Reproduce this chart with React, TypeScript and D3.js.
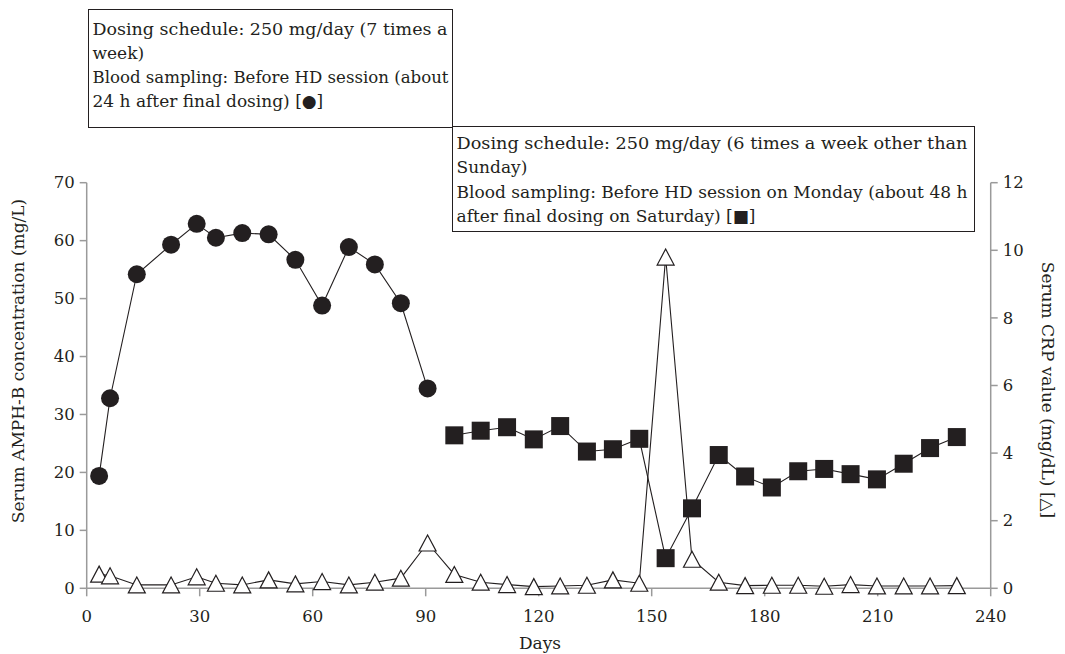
import React from "react";
import * as d3 from "d3";

// ---- data ----
const daysDaily = [3.3, 6.2, 13.3, 22.4, 29.2, 34.3, 41.3, 48.3, 55.4, 62.5, 69.6, 76.5, 83.4, 90.5];
const amphDaily = [19.4, 32.8, 54.2, 59.3, 62.9, 60.5, 61.3, 61.1, 56.7, 48.8, 58.9, 55.9, 49.2, 34.5];
const daysSix = [97.6, 104.6, 111.6, 118.7, 125.7, 132.8, 139.7, 146.7, 153.7, 160.7, 167.8, 174.8, 181.9, 188.9, 195.8, 202.8, 209.8, 216.9, 223.9, 231.0];
const amphSix = [26.4, 27.2, 27.8, 25.7, 28.0, 23.6, 24.0, 25.8, 5.2, 13.8, 23.0, 19.3, 17.4, 20.2, 20.6, 19.7, 18.8, 21.5, 24.2, 26.1];
const crpValues = [
  0.42, 0.37, 0.10, 0.10, 0.34, 0.15, 0.10, 0.25, 0.13, 0.20, 0.10, 0.18, 0.30, 1.34,
  0.41, 0.18, 0.11, 0.05, 0.07, 0.09, 0.25, 0.15, 9.8, 0.86, 0.18, 0.08, 0.09, 0.09, 0.06, 0.11, 0.07, 0.07, 0.07, 0.08,
];
const xTicks = [0, 30, 60, 90, 120, 150, 180, 210, 240];
const yLeftTicks = [0, 10, 20, 30, 40, 50, 60, 70];
const yRightTicks = [0, 2, 4, 6, 8, 10, 12];
const box1Lines = [
  "Dosing schedule: 250 mg/day (7 times a",
  "week)",
  "Blood sampling: Before HD session (about",
  "24 h after final dosing) [\u25CF]",
];
const box2Lines = [
  "Dosing schedule: 250 mg/day (6 times a week other than",
  "Sunday)",
  "Blood sampling: Before HD session on Monday (about 48 h",
  "after final dosing on Saturday) [\u25A0]",
];
const xTitle = "Days";
const yLeftTitle = "Serum AMPH-B concentration (mg/L)";
const yRightTitle = "Serum CRP value (mg/dL) [\u25B3]";

const W = 1065;
const H = 654;
const x = d3.scaleLinear().domain([0, 240]).range([86.7, 990.7]);
const yL = d3.scaleLinear().domain([0, 70]).range([588.3, 182.7]);
const yR = d3.scaleLinear().domain([0, 12]).range([588.3, 182.7]);

const AXIS = "#9a9a9a";
const MARK = "#231f20";
const FONT = "'DejaVu Serif', serif";

// full-width lines in the boxes are fitted to the box width
const box1Fit = [355, null, 356, null];
const box2Fit = [511, null, 511, null];

export default function App() {
  const crpDays = [...daysDaily, ...daysSix];
  const circ = daysDaily.map((d, i) => [x(d), yL(amphDaily[i])] as [number, number]);
  const sq = daysSix.map((d, i) => [x(d), yL(amphSix[i])] as [number, number]);
  const tri = crpDays.map((d, i) => [x(d), yR(crpValues[i])] as [number, number]);
  const line = d3.line<[number, number]>();
  const tw = 17, th = 16;
  const x0 = x(0), x1 = x(240), yb = yL(0), yt = yL(70);
  return (
    <svg width={W} height={H} style={{ position: "absolute", left: 0, top: 0, background: "#fff" }} fontFamily={FONT}>
      <rect x={0} y={0} width={W} height={H} fill="#fff" />
      {/* axes */}
      <g stroke={AXIS} strokeWidth={1.5} fill="none">
        <line x1={x0} y1={yt} x2={x0} y2={yb} />
        <line x1={x1} y1={yt} x2={x1} y2={yb} />
        <line x1={x0} y1={yb} x2={x1} y2={yb} />
        {yLeftTicks.map((t) => (
          <line key={"l" + t} x1={x0 - 7} x2={x0} y1={yL(t)} y2={yL(t)} />
        ))}
        {yRightTicks.map((t) => (
          <line key={"r" + t} x1={x1} x2={x1 + 7} y1={yR(t)} y2={yR(t)} />
        ))}
        {xTicks.map((t) => (
          <line key={"b" + t} x1={x(t)} x2={x(t)} y1={yb} y2={yb + 8} />
        ))}
      </g>
      <g fontSize={16.5} fill="#231f20">
        {yLeftTicks.map((t) => (
          <text key={"lt" + t} x={x0 - 12} y={yL(t)} dy="0.35em" textAnchor="end">{t}</text>
        ))}
        {yRightTicks.map((t) => (
          <text key={"rt" + t} x={x1 + 12} y={yR(t)} dy="0.35em" textAnchor="start">{t}</text>
        ))}
        {xTicks.map((t) => (
          <text key={"bt" + t} x={x(t)} y={621.5} textAnchor="middle">{t}</text>
        ))}
      </g>
      <g fontSize={17} fill="#231f20">
        <text x={540} y={649} textAnchor="middle">{xTitle}</text>
        <text transform="translate(24,361) rotate(-90)" textAnchor="middle">{yLeftTitle}</text>
        <text transform="translate(1042,390) rotate(90)" textAnchor="middle">{yRightTitle}</text>
      </g>
      {/* lines */}
      <g fill="none" stroke="#231f20" strokeWidth={1.1}>
        <path d={line(tri) || ""} />
        <path d={line(circ) || ""} />
        <path d={line(sq) || ""} />
      </g>
      {/* markers */}
      {tri.map(([cx, cy], i) => (
        <path key={"t" + i}
          d={`M${cx},${cy - th / 2}L${cx + tw / 2},${cy + th / 2}L${cx - tw / 2},${cy + th / 2}Z`}
          fill="#fff" stroke="#231f20" strokeWidth={1.2} strokeLinejoin="miter" />
      ))}
      {circ.map(([cx, cy], i) => (
        <circle key={"c" + i} cx={cx} cy={cy} r={9} fill={MARK} />
      ))}
      {sq.map(([cx, cy], i) => (
        <rect key={"s" + i} x={cx - 9} y={cy - 9} width={18} height={18} fill={MARK} />
      ))}
      {/* annotation boxes */}
      <rect x={88.5} y={9.5} width={364} height={118} fill="#fff" stroke="#231f20" strokeWidth={1} />
      <g fontSize={17} fill="#231f20">
        {box1Lines.map((s, i) => (
          <text key={"a" + i} x={92.5} y={35 + i * 24.1}
            {...(box1Fit[i] ? { textLength: box1Fit[i] as number, lengthAdjust: "spacingAndGlyphs" } : {})}>{s}</text>
        ))}
      </g>
      <rect x={452.5} y={126.5} width={522} height={105} fill="#fff" stroke="#231f20" strokeWidth={1} />
      <g fontSize={17} fill="#231f20">
        {box2Lines.map((s, i) => (
          <text key={"b" + i} x={456.5} y={149 + i * 24.3}
            {...(box2Fit[i] ? { textLength: box2Fit[i] as number, lengthAdjust: "spacingAndGlyphs" } : {})}>{s}</text>
        ))}
      </g>
    </svg>
  );
}
